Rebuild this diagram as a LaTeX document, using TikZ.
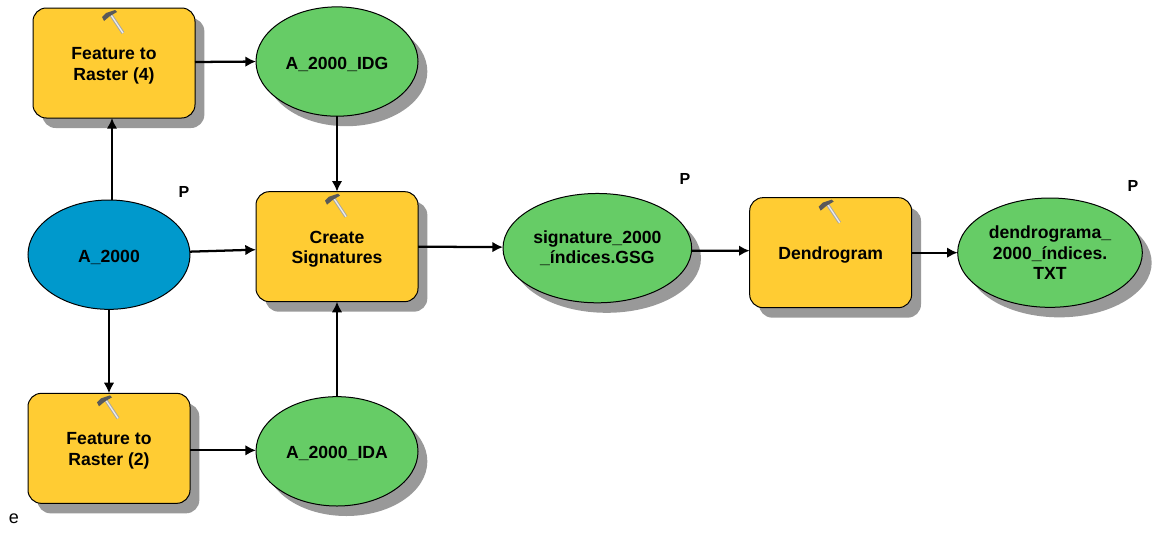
\documentclass[tikz,border=0pt]{standalone}
\usepackage{fontspec}
\setmainfont{Liberation Sans}
\usepackage{tikz}
\usetikzlibrary{positioning}
\usetikzlibrary{arrows.meta,shadows,shapes.geometric}

\definecolor{toolfill}{HTML}{FFCC33}
\definecolor{datafill}{HTML}{66CC66}
\definecolor{inputfill}{HTML}{0099CC}
\definecolor{shadowfill}{HTML}{999999}

\newcommand{\topgap}{\rule{0pt}{13pt}}
\newcommand{\hammer}[1]{%
    \begin{scope}[shift={(#1)}]
        \draw[line width=2.4pt, gray!70] (-3,7) -- (9,25);
        \draw[line width=1pt, gray!15] (-3,7) -- (9,25);
        \fill[black!65] (-12,9) -- (-8,5) -- (1,2) -- (3,4) -- (-4,8) -- (-10,13) -- cycle;
    \end{scope}}

\tikzset{
    model/.style={draw=black, line width=0.75pt, text=black, font=\bfseries\fontsize{13.2}{15.5}\selectfont,
        align=center, inner sep=0pt, outer sep=0pt},
    shade/.style={drop shadow={shadow xshift=7pt, shadow yshift=-7.5pt, fill=shadowfill, opacity=1}},
    toolbox/.style={model, shade, shape=rectangle, rounded corners=10pt, fill=toolfill,
        minimum width=121.5pt, minimum height=82.5pt},
    databox/.style={model, shade, shape=ellipse, fill=datafill,
        minimum width=121.5pt, minimum height=82pt},
    inputbox/.style={model, shape=ellipse, fill=inputfill,
        minimum width=121.5pt, minimum height=82pt},
    link/.style={line width=1.7pt, -{Latex[length=8pt,width=8pt]}},
    flag/.style={font=\bfseries\fontsize{12}{14}\selectfont, inner sep=0pt}
}

\begin{document}
\begin{tikzpicture}[x=0.75pt,y=-0.75pt]
    \useasboundingbox (0,0) rectangle (1152,532);

    \node[toolbox](f4) at (114,63) {\topgap Feature to\\Raster (4)};
    \node[databox](idg)[right=45.75pt of f4,yshift=1.1pt] {\topgap A\_2000\_IDG};
    \node[inputbox](a2000)[below=61.5pt of f4,xshift=-3.75pt] {\topgap A\_2000};
    \node[toolbox](f2)[below=63pt of a2000] {\topgap Feature to\\Raster (2)};
    \node[toolbox](create)[right=49.5pt of a2000,yshift=6pt] {\topgap Create\\Signatures};
    \node[databox](ida)[below=71.25pt of create] {\topgap A\_2000\_IDA};
    \node[databox,minimum width=141.5pt](sig)[right=63.75pt of create,yshift=-1.1pt] {signature\_2000\\\_índices.GSG};
    \node[toolbox](dend)[right=43.5pt of sig,yshift=-3.4pt] {\topgap Dendrogram};
    \node[databox,minimum width=138.5pt](dendro)[right=34.5pt of dend] {dendrograma\_\\2000\_índices.\\TXT};

    \node[flag](p1) at (184,192) {P};
    \node[flag](p2) at (685,179) {P};
    \node[flag](p3) at (1133,186) {P};
    \node[inner sep=0pt,font=\fontsize{13.5}{14}\selectfont](e) at (14,519) {e};

    %Hammers
    \hammer{f4.north}
    \hammer{f2.north}
    \hammer{create.north}
    \hammer{dend.north}

    %Lines
    \draw[link] ([yshift=0.75pt]f4.east) -- (idg.west);
    \draw[link] ([xshift=2.25pt]a2000.north) -- ([xshift=-1.5pt]f4.south);
    \draw[link] (idg.south) -- (create.north);
    \draw[link] (a2000.south) -- (f2.north);
    \draw[link] ([yshift=-1.5pt]f2.east) -- ([yshift=0.75pt]ida.west);
    \draw[link] (ida.north) -- (create.south);
    \draw[link] ([yshift=2.25pt]a2000.east) -- ([yshift=-2.25pt]create.west);
    \draw[link] (create.east) -- ([yshift=0.75pt]sig.west);
    \draw[link] ([yshift=-2pt]sig.east) -- ([yshift=1.5pt]dend.west);
    \draw[link] (dend.east) -- (dendro.west);
\end{tikzpicture}
\end{document}
